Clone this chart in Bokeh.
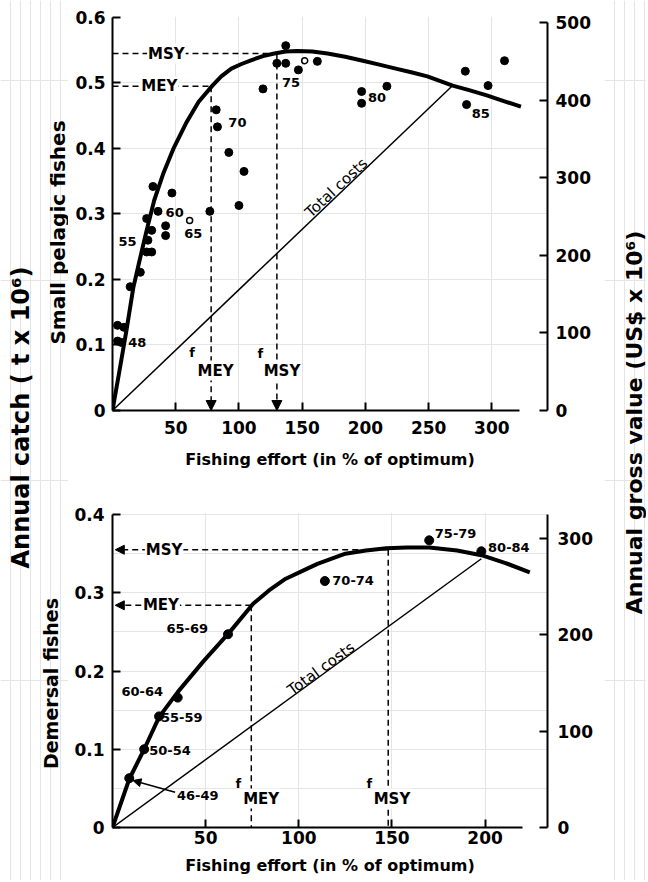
import math
from bokeh.plotting import figure
from bokeh.models import Range1d, LinearAxis, FixedTicker, Label, Arrow, NormalHead
from bokeh.layouts import row, column
from bokeh.core.properties import value
from bokeh.embed import file_html
from bokeh.resources import INLINE

# ---------------- data: small pelagic fishes (top) ----------------
top_curve_effort = [0, 6, 11, 16.5, 22, 27, 33, 40, 48, 58, 68, 79, 86, 94, 102, 110, 119,
                    128, 137, 146, 158, 170, 184, 198, 211, 224, 237, 249, 269, 282, 296,
                    310, 323]
top_curve_catch = [0, 0.066, 0.122, 0.188, 0.234, 0.275, 0.321, 0.361, 0.399, 0.438, 0.471,
                   0.496, 0.510, 0.522, 0.529, 0.535, 0.541, 0.545, 0.548, 0.549, 0.548,
                   0.545, 0.540, 0.534, 0.528, 0.522, 0.516, 0.510, 0.496, 0.489, 0.481,
                   0.472, 0.464]
top_pts_effort = [4, 9, 4, 7, 14, 22, 27, 31, 28, 31, 27, 32, 36, 42, 42, 47, 77, 82, 83,
                  92, 100, 104, 119, 130, 137, 137, 147, 162, 197, 197, 217, 279, 280, 297, 310]
top_pts_catch = [0.130, 0.127, 0.106, 0.104, 0.189, 0.211, 0.242, 0.242, 0.260, 0.275, 0.293,
                 0.342, 0.304, 0.282, 0.267, 0.332, 0.304, 0.459, 0.433, 0.394, 0.313, 0.365,
                 0.491, 0.530, 0.530, 0.557, 0.520, 0.533, 0.487, 0.469, 0.495, 0.518, 0.467,
                 0.496, 0.534]
top_open_effort = [61, 152]
top_open_catch = [0.290, 0.534]
top_year_labels = ["48", "55", "60", "65", "70", "75", "80", "85"]
top_year_effort = [12.4, 4.7, 42, 56.7, 91.6, 134, 202, 284]
top_year_catch = [0.104, 0.258, 0.302, 0.270, 0.440, 0.500, 0.478, 0.453]
top_cost_effort = [0, 269]
top_cost_usd = [0, 419]
top_msy, top_f_msy = 0.545, 130
top_mey, top_f_mey = 0.495, 78
top_xticks = [50, 100, 150, 200, 250, 300]
top_yticks = [0, 0.1, 0.2, 0.3, 0.4, 0.5, 0.6]
top_rticks = [0, 100, 200, 300, 400, 500]

# ---------------- data: demersal fishes (bottom) ----------------
bot_curve_effort = [0, 9, 17, 25, 35, 49, 63, 75.5, 84, 93, 102, 110, 125, 136, 147, 158,
                    170, 185, 198, 211, 224]
bot_curve_catch = [0, 0.062, 0.100, 0.141, 0.173, 0.213, 0.250, 0.286, 0.303, 0.318, 0.328,
                   0.337, 0.350, 0.354, 0.357, 0.358, 0.358, 0.354, 0.348, 0.338, 0.326]
bot_pts_effort = [9, 17, 25, 35, 62, 114, 170, 198]
bot_pts_catch = [0.063, 0.100, 0.142, 0.166, 0.247, 0.315, 0.367, 0.353]
bot_period_labels = ["46-49", "50-54", "55-59", "60-64", "65-69", "70-74", "75-79", "80-84"]
bot_period_effort = [34.6, 19.7, 26, 4.8, 29, 118, 173, 201.6]
bot_period_catch = [0.041, 0.098, 0.141, 0.174, 0.254, 0.316, 0.376, 0.358]
bot_cost_effort = [0, 198]
bot_cost_usd = [0, 279]
bot_msy, bot_f_msy = 0.355, 148
bot_mey, bot_f_mey = 0.284, 74.5
bot_xticks = [50, 100, 150, 200]
bot_yticks = [0, 0.1, 0.2, 0.3, 0.4]
bot_rticks = [0, 100, 200, 300]

FONT = "DejaVu Sans"
DASH = "6 4"
TOTAL_H = 880


def style_axis(ax, standoff):
    ax.axis_line_width = 2
    ax.axis_line_color = "black"
    ax.major_tick_line_width = 2
    ax.major_tick_in = 8
    ax.major_tick_out = 0
    ax.minor_tick_line_color = None
    ax.major_label_text_font = FONT
    ax.major_label_text_font_style = "bold"
    ax.major_label_text_font_size = "17px"
    ax.major_label_text_color = "black"
    ax.major_label_standoff = standoff
    ax.axis_label_text_font = FONT
    ax.axis_label_text_font_style = "bold"
    ax.axis_label_text_font_size = "16px"
    ax.axis_label_text_color = "black"


def make_panel(width, height, xmax, ymax, usdmax, borders, xbounds, xticks, yticks, rticks,
               ybound, rbound, lstand, rstand, bstand, bl_stand):
    p = figure(width=width, height=height, x_range=Range1d(0, xmax), y_range=Range1d(0, ymax),
               toolbar_location=None, output_backend="svg",
               x_axis_location=None, y_axis_location=None,
               min_border_left=borders[0], min_border_right=borders[1],
               min_border_top=borders[2], min_border_bottom=borders[3])
    p.outline_line_color = None
    p.background_fill_color = "white"
    p.border_fill_color = "white"
    p.extra_y_ranges = {"usd": Range1d(0, usdmax)}

    xa = LinearAxis(bounds=xbounds, ticker=FixedTicker(ticks=xticks),
                    axis_label="Fishing effort (in % of optimum)")
    style_axis(xa, bstand)
    xa.axis_label_standoff = bl_stand
    p.add_layout(xa, "below")

    ya = LinearAxis(bounds=ybound, ticker=FixedTicker(ticks=yticks))
    style_axis(ya, lstand)
    ya.major_label_overrides = {0: "0"}
    p.add_layout(ya, "left")

    ra = LinearAxis(y_range_name="usd", bounds=rbound, ticker=FixedTicker(ticks=rticks))
    style_axis(ra, rstand)
    p.add_layout(ra, "right")
    return p


def text_label(p, x, y, text, size, style="bold", align="center", angle=0.0, bg=None):
    lab = Label(x=x, y=y, text=text, text_font=FONT, text_font_size=size,
                text_font_style=style, text_align=align, text_baseline="middle",
                angle=angle, text_color="black")
    if bg:
        lab.background_fill_color = bg
        lab.padding = 1
    p.add_layout(lab)


# ---------------- top panel ----------------
top = make_panel(536, 478, 344, 0.6015, 508, (44, 49, 16, 68), (0, 322),
                 top_xticks, top_yticks, top_rticks, (0, 0.6), (0, 500), 7, 8, 10, 13)

top.line(top_cost_effort, top_cost_usd, y_range_name="usd", line_color="black", line_width=1.5)
top.line(top_curve_effort, top_curve_catch, line_color="black", line_width=4,
         line_join="round")
top.line([0, top_f_msy], [top_msy, top_msy], line_color="black", line_width=1.5, line_dash=DASH)
top.line([0, top_f_mey], [top_mey, top_mey], line_color="black", line_width=1.5, line_dash=DASH)
for f, yv in ((top_f_mey, top_mey), (top_f_msy, top_msy)):
    top.add_layout(Arrow(x_start=f, y_start=yv, x_end=f, y_end=0, line_width=1.5,
                         line_dash=DASH,
                         end=NormalHead(size=10, fill_color="black", line_color="black")))
top.scatter(top_pts_effort, top_pts_catch, size=8, color="black")
top.scatter(top_open_effort, top_open_catch, size=6, fill_color="white",
            line_color="black", line_width=1.5)
top.text(top_year_effort, top_year_catch, text=top_year_labels, text_font=value(FONT),
         text_font_size="13px", text_font_style="bold", text_align="left",
         text_baseline="middle", text_color="black")

text_label(top, 42.6, top_msy, "MSY", "15px", bg="white")
text_label(top, 37, top_mey, "MEY", "15px", bg="white")
text_label(top, 62.9, 0.089, "f", "13px")
text_label(top, 81.5, 0.061, "MEY", "15px", bg="white")
text_label(top, 117, 0.087, "f", "13px")
text_label(top, 134, 0.061, "MSY", "15px", bg="white")
text_label(top, 177, 0.340, "Total costs", "15px", style="normal", angle=math.radians(43))

# ---------------- bottom panel ----------------
bot = make_panel(536, 402, 233.5, 0.4026, 327, (40, 57, 34, 53), (0, 220),
                 bot_xticks, bot_yticks, bot_rticks, (0, 0.4), (0, 325), 8, 10, 3, 9)

bot.line(bot_cost_effort, bot_cost_usd, y_range_name="usd", line_color="black", line_width=1.5)
bot.line(bot_curve_effort, bot_curve_catch, line_color="black", line_width=4,
         line_join="round")
for f, yv in ((bot_f_mey, bot_mey), (bot_f_msy, bot_msy)):
    bot.line([f, f], [yv, 0], line_color="black", line_width=1.5, line_dash=DASH)
    bot.add_layout(Arrow(x_start=f, y_start=yv, x_end=1.5, y_end=yv, line_width=1.5,
                         line_dash=DASH,
                         end=NormalHead(size=9, fill_color="black", line_color="black")))
bot.scatter(bot_pts_effort, bot_pts_catch, size=9, color="black")
bot.text(bot_period_effort, bot_period_catch, text=bot_period_labels, text_font=value(FONT),
         text_font_size="13px", text_font_style="bold", text_align="left",
         text_baseline="middle", text_color="black")
bot.add_layout(Arrow(x_start=bot_period_effort[0] - 1, y_start=bot_period_catch[0] + 0.004,
                     x_end=bot_pts_effort[0] + 2, y_end=bot_pts_catch[0] - 0.003,
                     line_width=1.5,
                     end=NormalHead(size=8, fill_color="black", line_color="black")))

text_label(bot, 27.7, bot_msy, "MSY", "15px", bg="white")
text_label(bot, 26, bot_mey, "MEY", "15px", bg="white")
text_label(bot, 67.6, 0.056, "f", "13px")
text_label(bot, 79.8, 0.037, "MEY", "15px", bg="white")
text_label(bot, 137.8, 0.056, "f", "13px")
text_label(bot, 150, 0.037, "MSY", "15px", bg="white")
text_label(bot, 112, 0.203, "Total costs", "15px", style="normal", angle=math.radians(36))


# ---------------- side titles ----------------
def side_fig(width):
    s = figure(width=width, height=TOTAL_H, x_range=Range1d(0, width),
               y_range=Range1d(0, TOTAL_H), toolbar_location=None, output_backend="svg",
               x_axis_location=None, y_axis_location=None, min_border=0)
    s.outline_line_color = None
    s.border_fill_color = "white"
    return s


left = side_fig(68)
text_label(left, 20, TOTAL_H - 417, "Annual catch ( t x 10⁶)", "24px", angle=math.pi / 2)
text_label(left, 57, TOTAL_H - 232, "Small pelagic fishes", "20px", angle=math.pi / 2)
text_label(left, 50, TOTAL_H - 683, "Demersal fishes", "19px", angle=math.pi / 2)

right = side_fig(42)
text_label(right, 30, TOTAL_H - 422, "Annual gross value (US$ x 10⁶)", "22px",
           angle=math.pi / 2)

layout = row(left, column(top, bot), right)
open("out.html", "w").write(file_html(layout, INLINE))
